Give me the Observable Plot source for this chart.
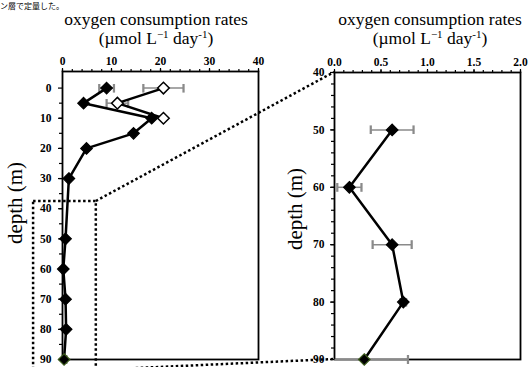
<!DOCTYPE html>
<html><head><meta charset="utf-8">
<script src="https://cdn.jsdelivr.net/npm/d3@7"></script>
<script src="https://cdn.jsdelivr.net/npm/@observablehq/plot@0.6"></script>
<style>
body{margin:0;background:#fff;}
#wrap{position:relative;width:529px;height:367px;overflow:hidden;background:#fff;}
#left,#right,#over{position:absolute;top:0;}
#left{left:0;} #right{left:270px;}
#over{left:0;pointer-events:none;}
</style></head>
<body><div id="wrap"><div id="left"></div><div id="right"></div>
<svg id="over" width="529" height="367"></svg></div>
<script>
// ---- data ----
const depthFilled = [0, 5, 10, 15, 20, 30, 50, 60, 70, 80, 90];
const rateFilled  = [9.0, 4.3, 18.2, 14.5, 4.9, 1.3, 0.62, 0.16, 0.62, 0.74, 0.32];
const errFilled   = [1.5, 0, 0, 0, 0, 0, 0.23, 0.13, 0.21, 0.03, 0.47];
const depthOpen = [0, 5, 10];
const rateOpen  = [20.6, 11.2, 20.6];
const errOpen   = [4.1, 2.2, 0];
const leftXTicks = [0, 10, 20, 30, 40];
const rightXTicks = [0, 0.5, 1.0, 1.5, 2.0];
const leftYTicks = [0, 10, 20, 30, 40, 50, 60, 70, 80, 90];
const rightYTicks = [40, 50, 60, 70, 80, 90];
const zoomRate = [-5.9, 6.9];
const zoomDepth = [37.6, 93.6];
const titleLine1 = "oxygen consumption rates";
const depthLabel = "depth (m)";
const topText = "ン層で定量した。";

const filled = depthFilled.map((d, i) => ({d, r: rateFilled[i], e: errFilled[i], last: i === depthFilled.length - 1}));
const open = depthOpen.map((d, i) => ({d, r: rateOpen[i], e: errOpen[i]}));

const FONT = "'Liberation Serif','Times New Roman',serif";
const GREY = "#8a8a8a";

function panel(rows, openRows, cfg) {
  const xmin = cfg.xdom[0];
  const withErr = rows.filter(r => r.e > 0);
  const errFull = withErr.filter(r => r.r - r.e >= xmin);
  const errClamp = withErr.filter(r => r.r - r.e < xmin);
  const marks = [
    Plot.axisX(cfg.xMinor, {anchor: "top", tickSize: 3, tickFormat: () => "", label: null, strokeWidth: 1.2}),
    Plot.axisX(cfg.xTicks, {anchor: "top", tickSize: 4, tickPadding: 3, tickFormat: cfg.xFmt, label: null, strokeWidth: 1.2}),
    Plot.axisY(cfg.yMinor, {anchor: "left", tickSize: 3, tickFormat: () => "", label: null, strokeWidth: 1.2}),
    Plot.axisY(cfg.yTicks, {anchor: "left", tickSize: 4, tickPadding: cfg.yPad, tickFormat: d => String(d), label: null, strokeWidth: 1.2}),
    Plot.frame({stroke: "black", strokeWidth: 1.8}),
    Plot.link(errFull, {x1: d => d.r - d.e, x2: d => d.r + d.e, y1: "d", y2: "d", stroke: GREY, strokeWidth: 1.5, markerStart: "tick", markerEnd: "tick"}),
    Plot.link(errClamp, {x1: () => xmin, x2: d => d.r + d.e, y1: "d", y2: "d", stroke: GREY, strokeWidth: 1.5, markerEnd: "tick"}),
  ];
  if (openRows) {
    marks.push(
      Plot.link(openRows.filter(r => r.e > 0), {x1: d => d.r - d.e, x2: d => d.r + d.e, y1: "d", y2: "d", stroke: GREY, strokeWidth: 1.5, markerStart: "tick", markerEnd: "tick"}),
      Plot.line(openRows, {x: "r", y: "d", stroke: "black", strokeWidth: 2.5})
    );
  }
  marks.push(
    Plot.line(rows, {x: "r", y: "d", stroke: "black", strokeWidth: 2.5}),
    Plot.dot(rows, {x: "r", y: "d", symbol: "diamond2", r: 5.2, fill: "black", stroke: d => d.last ? "#3b5a1c" : "black", strokeWidth: 1.2})
  );
  if (openRows) {
    marks.push(Plot.dot(openRows, {x: "r", y: "d", symbol: "diamond2", r: 5.2, fill: "white", stroke: "black", strokeWidth: 1.5}));
  }
  if (cfg.box) marks.push(cfg.box);
  return Plot.plot({
    width: cfg.width, height: 367,
    marginLeft: cfg.ml, marginRight: cfg.mr, marginTop: cfg.mt, marginBottom: 8,
    style: {fontFamily: FONT, fontSize: "11.5px", fontWeight: "bold", background: "transparent", overflow: "visible", color: "black"},
    x: {domain: cfg.xdom, axis: null},
    y: {domain: cfg.ydom, reverse: true, axis: null},
    marks
  });
}

const box = Plot.rect([{x1: zoomRate[0], x2: zoomRate[1], y1: zoomDepth[0], y2: zoomDepth[1]}],
  {x1: "x1", x2: "x2", y1: "y1", y2: "y2", fill: "none", stroke: "black", strokeWidth: 2.5, strokeDasharray: "2.5,2.5"});

const L = panel(filled, open, {
  width: 270, ml: 62, mr: 12, mt: 71, xdom: [0, 40], ydom: [-5.5, 90],
  xTicks: leftXTicks, xMinor: d3.range(0, 41, 2), xFmt: d => String(d),
  yTicks: leftYTicks, yMinor: d3.range(5, 90, 5), yPad: 7, box
});
const R = panel(filled.filter(r => r.d >= rightYTicks[0]), null, {
  width: 259, ml: 64, mr: 9, mt: 72, xdom: [0, 2], ydom: [40, 90],
  xTicks: rightXTicks, xMinor: d3.range(0, 2.01, 0.1), xFmt: d => d.toFixed(1),
  yTicks: rightYTicks, yMinor: d3.range(42, 90, 2), yPad: 6
});
document.getElementById("left").appendChild(L);
document.getElementById("right").appendChild(R);

// ---- overlay: titles, labels, connectors ----
const over = d3.select("#over");
const lx = L.scale("x"), ly = L.scale("y"), rx = R.scale("x"), ry = R.scale("y");
const conn = [
  [[lx.apply(zoomRate[1]), ly.apply(zoomDepth[0])], [270 + rx.apply(0), ry.apply(rightYTicks[0])]],
  [[lx.apply(zoomRate[1]), ly.apply(zoomDepth[1])], [270 + rx.apply(0), ry.apply(rightYTicks[rightYTicks.length - 1])]]
];
conn.forEach(([a, b]) => over.append("line").attr("x1", a[0]).attr("y1", a[1]).attr("x2", b[0]).attr("y2", b[1])
  .attr("stroke", "black").attr("stroke-width", 2.5).attr("stroke-dasharray", "2.5,2.5"));

over.append("text").attr("x", 0).attr("y", 8.5).attr("font-family", "'Noto Sans CJK JP'").attr("font-size", 8).text(topText);

function title(cx) {
  over.append("text").attr("x", cx).attr("y", 25.3).attr("text-anchor", "middle")
    .attr("font-family", FONT).attr("font-size", 17.5).text(titleLine1);
  const t2 = over.append("text").attr("x", cx).attr("y", 44.3).attr("text-anchor", "middle")
    .attr("font-family", FONT).attr("font-size", 17.5);
  t2.append("tspan").text("(µmol L");
  t2.append("tspan").attr("dy", -6).attr("font-size", 11).text("−1");
  t2.append("tspan").attr("dy", 6).text(" day");
  t2.append("tspan").attr("dy", -6).attr("font-size", 11).text("-1");
  t2.append("tspan").attr("dy", 6).text(")");
}
title(156);
title(430);
[[22, 203], [302, 209]].forEach(([x, y]) => over.append("text")
  .attr("transform", `translate(${x},${y}) rotate(-90)`).attr("text-anchor", "middle")
  .attr("font-family", FONT).attr("font-size", 21).text(depthLabel));
</script></body></html>
